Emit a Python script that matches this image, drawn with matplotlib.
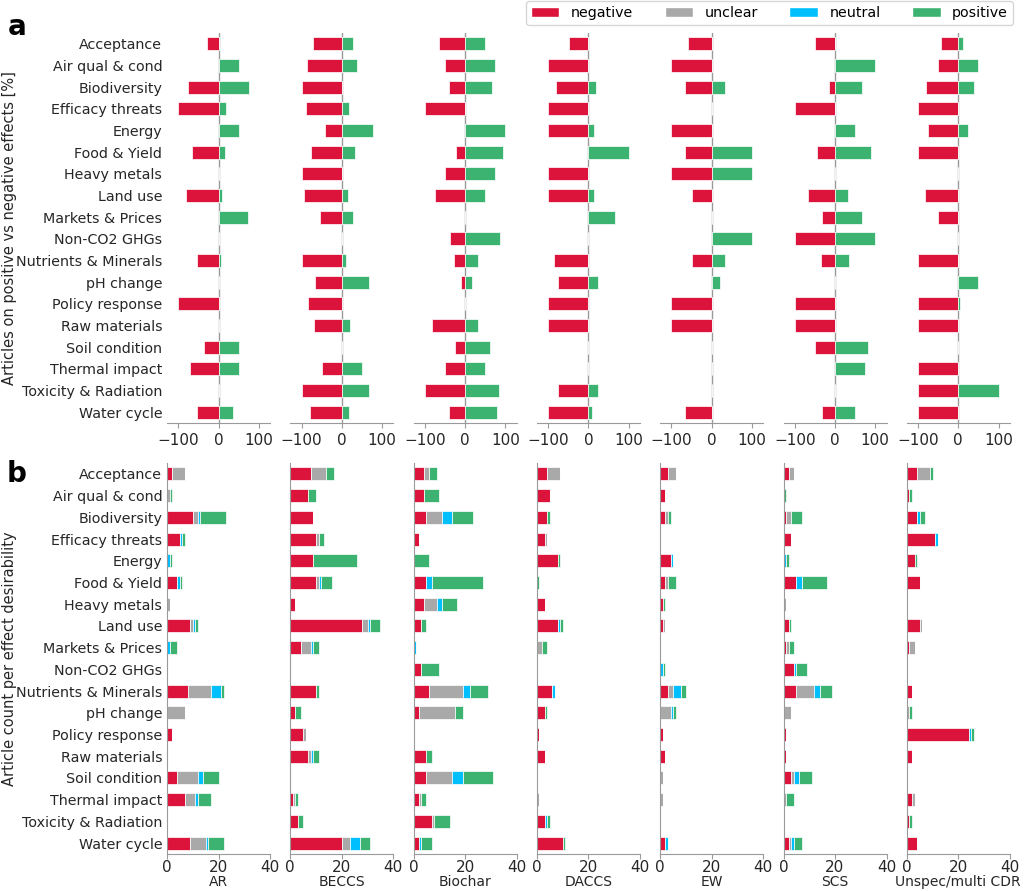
import numpy as np
import matplotlib
matplotlib.use("Agg")
import matplotlib.pyplot as plt
from matplotlib.patches import Patch

categories = ["Acceptance", "Air qual & cond", "Biodiversity", "Efficacy threats",
              "Energy", "Food & Yield", "Heavy metals", "Land use",
              "Markets & Prices", "Non-CO2 GHGs", "Nutrients & Minerals",
              "pH change", "Policy response", "Raw materials", "Soil condition",
              "Thermal impact", "Toxicity & Radiation", "Water cycle"]
methods = ["AR", "BECCS", "Biochar", "DACCS", "EW", "SCS", "Unspec/multi CDR"]

# panel a: share of articles with negative / positive effects [%]
pct_neg = {
    "AR":      [28, 0, 77, 100, 0, 66, 0, 82, 0, 0, 53, 0, 100, 0, 35, 70, 0, 53],
    "BECCS":   [72, 86, 100, 90, 41, 76, 100, 93, 55, 0, 100, 66, 83, 69, 0, 49, 100, 79],
    "Biochar": [66, 50, 41, 100, 0, 23, 50, 74, 0, 37, 28, 10, 0, 83, 26, 50, 100, 40],
    "DACCS":   [49, 100, 80, 100, 100, 0, 100, 100, 0, 0, 85, 75, 100, 100, 0, 0, 75, 100],
    "EW":      [60, 100, 66, 0, 100, 66, 100, 50, 0, 0, 50, 0, 100, 100, 0, 0, 0, 66],
    "SCS":     [50, 0, 16, 100, 0, 45, 0, 67, 33, 100, 36, 0, 100, 100, 50, 0, 0, 33],
    "Unspec/multi CDR": [44, 50, 80, 100, 75, 100, 0, 83, 50, 0, 100, 0, 100, 100, 0, 100, 100, 100],
}
pct_pos = {
    "AR":      [0, 50, 76, 19, 50, 16, 0, 8, 74, 0, 6, 0, 0, 0, 50, 50, 0, 35],
    "BECCS":   [28, 38, 0, 19, 78, 32, 0, 15, 29, 0, 10, 67, 0, 21, 0, 50, 67, 17],
    "Biochar": [50, 74, 66, 0, 100, 94, 74, 50, 0, 86, 33, 16, 0, 33, 62, 50, 85, 80],
    "DACCS":   [0, 0, 20, 0, 13, 100, 0, 13, 66, 0, 0, 25, 0, 0, 0, 0, 25, 10],
    "EW":      [0, 0, 33, 0, 0, 100, 100, 0, 0, 100, 33, 20, 0, 0, 0, 0, 0, 0],
    "SCS":     [0, 100, 67, 0, 50, 90, 0, 33, 67, 100, 36, 0, 0, 0, 83, 75, 0, 50],
    "Unspec/multi CDR": [11, 50, 40, 0, 25, 0, 0, 0, 0, 0, 0, 50, 4, 0, 0, 0, 100, 0],
}

# panel b: article counts per effect desirability
cnt_negative = {
    "AR":      [2, 0, 10, 5, 0, 4, 0, 9, 0, 0, 8, 0, 2, 0, 4, 7, 0, 9],
    "BECCS":   [8, 7, 9, 10, 9, 10, 2, 28, 4, 0, 10, 2, 5, 7, 0, 1, 3, 20],
    "Biochar": [4, 4, 5, 2, 0, 5, 4, 3, 0, 3, 6, 2, 0, 5, 5, 2, 7, 2],
    "DACCS":   [4, 5, 4, 3, 8, 0, 3, 8, 0, 0, 6, 3, 1, 3, 0, 0, 3, 10],
    "EW":      [3, 2, 2, 0, 4, 2, 1, 1, 0, 0, 3, 0, 1, 2, 0, 0, 0, 2],
    "SCS":     [2, 0, 1, 3, 0, 5, 0, 2, 1, 4, 5, 0, 1, 1, 3, 0, 0, 2],
    "Unspec/multi CDR": [4, 1, 4, 11, 3, 5, 0, 5, 1, 0, 2, 0, 24, 2, 0, 2, 1, 4],
}
cnt_unclear = {
    "AR":      [5, 1, 2, 0, 0, 0, 1, 1, 0, 0, 9, 7, 0, 0, 8, 4, 0, 6],
    "BECCS":   [6, 0, 0, 1, 0, 1, 0, 2, 4, 0, 0, 0, 1, 1, 0, 1, 0, 3],
    "Biochar": [2, 0, 6, 0, 0, 0, 5, 0, 0, 0, 13, 14, 0, 0, 10, 1, 1, 0],
    "DACCS":   [5, 0, 0, 1, 0, 0, 0, 0, 2, 0, 0, 0, 0, 0, 0, 1, 0, 0],
    "EW":      [3, 0, 1, 0, 0, 1, 0, 1, 0, 0, 2, 4, 0, 0, 1, 1, 0, 0],
    "SCS":     [2, 0, 2, 0, 0, 0, 1, 0, 1, 0, 7, 3, 0, 0, 1, 1, 0, 1],
    "Unspec/multi CDR": [5, 0, 0, 0, 0, 0, 0, 1, 2, 0, 0, 1, 0, 0, 0, 1, 0, 0],
}
cnt_neutral = {
    "AR":      [0, 0, 1, 1, 1, 1, 0, 1, 1, 0, 4, 0, 0, 0, 2, 1, 0, 1],
    "BECCS":   [0, 0, 0, 0, 0, 1, 0, 1, 1, 0, 0, 0, 0, 1, 0, 0, 0, 4],
    "Biochar": [0, 0, 4, 0, 0, 2, 2, 0, 1, 0, 3, 0, 0, 0, 4, 0, 0, 1],
    "DACCS":   [0, 0, 0, 0, 0, 0, 0, 1, 0, 0, 1, 0, 0, 0, 0, 0, 1, 0],
    "EW":      [0, 0, 0, 0, 1, 0, 0, 0, 0, 1, 3, 1, 0, 0, 0, 0, 0, 1],
    "SCS":     [0, 0, 0, 0, 1, 2, 0, 0, 0, 1, 2, 0, 0, 0, 2, 0, 0, 1],
    "Unspec/multi CDR": [0, 0, 1, 1, 0, 0, 0, 0, 0, 0, 0, 0, 1, 0, 0, 0, 0, 0],
}
cnt_positive = {
    "AR":      [0, 1, 10, 1, 1, 1, 0, 1, 3, 0, 1, 0, 0, 0, 6, 5, 0, 6],
    "BECCS":   [3, 3, 0, 2, 17, 4, 0, 4, 2, 0, 1, 2, 0, 2, 0, 1, 2, 4],
    "Biochar": [3, 6, 8, 0, 6, 20, 6, 2, 0, 7, 7, 3, 0, 2, 12, 2, 6, 4],
    "DACCS":   [0, 0, 1, 0, 1, 1, 0, 1, 2, 0, 0, 1, 0, 0, 0, 0, 1, 1],
    "EW":      [0, 0, 1, 0, 0, 3, 1, 0, 0, 1, 2, 1, 0, 0, 0, 0, 0, 0],
    "SCS":     [0, 1, 4, 0, 1, 10, 0, 1, 2, 4, 5, 0, 0, 0, 5, 3, 0, 3],
    "Unspec/multi CDR": [1, 1, 2, 0, 1, 0, 0, 0, 0, 0, 0, 1, 1, 0, 0, 0, 1, 0],
}

colors = {"negative": "crimson", "unclear": "darkgray",
          "neutral": "deepskyblue", "positive": "mediumseagreen"}
spine_col = "#9a9a9a"
txt_col = "#262626"

fig = plt.figure(figsize=(10.24, 8.91), dpi=100)
plt.rcParams["font.size"] = 10.3

left0 = 167 / 1024
width = 103 / 1024
step = 123.3 / 1024
top_a, h_a = 1 - 423 / 891, 390 / 891
top_b, h_b = 1 - 854 / 891, 391 / 891

y = np.arange(len(categories))
bh = 0.6
edge = dict(edgecolor="white", linewidth=0.5)

def style(ax, xpad=3.5):
    for s in ["top", "right"]:
        ax.spines[s].set_visible(False)
    for s in ["left", "bottom"]:
        ax.spines[s].set_color(spine_col)
    ax.tick_params(axis="x", colors=spine_col, labelcolor=txt_col,
                   labelsize=11, pad=xpad)
    ax.tick_params(axis="y", length=0, labelcolor=txt_col, labelsize=10.3)
    ax.set_ylim(len(categories) - 0.5, -0.5)
    ax.set_yticks(y)

for i, m in enumerate(methods):
    # panel a
    ax = fig.add_axes([left0 + i * step, top_a, width, h_a])
    style(ax)
    ax.spines["left"].set_visible(False)
    ax.axvline(0, color=spine_col, lw=1, zorder=0)
    ax.barh(y, -np.array(pct_neg[m]), height=bh, color=colors["negative"], **edge)
    ax.barh(y, pct_pos[m], height=bh, color=colors["positive"], **edge)
    ax.set_xlim(-128, 128)
    ax.set_xticks([-100, 0, 100])
    if i == 0:
        ax.set_yticklabels(categories)
    else:
        ax.set_yticklabels([])

    # panel b
    ax = fig.add_axes([left0 + i * step, top_b, width, h_b])
    style(ax, xpad=1.0)
    left = np.zeros(len(categories))
    for key, d in [("negative", cnt_negative), ("unclear", cnt_unclear),
                   ("neutral", cnt_neutral), ("positive", cnt_positive)]:
        vals = np.array(d[m])
        ax.barh(y, vals, left=left, height=bh, color=colors[key], **edge)
        left += vals
    ax.set_xlim(0, 40)
    ax.set_xticks([0, 20, 40])
    ax.set_xlabel(m, fontsize=10.0, color=txt_col, labelpad=0)
    if i == 0:
        ax.set_yticklabels(categories)
    else:
        ax.set_yticklabels([])

fig.text(0.009, top_a + h_a / 2, "Articles on positive vs negative effects [%]",
         rotation=90, va="center", ha="center", fontsize=10.5, color=txt_col)
fig.text(0.009, top_b + h_b / 2, "Article count per effect desirability",
         rotation=90, va="center", ha="center", fontsize=10.5, color=txt_col)
fig.text(17 / 1024, 1 - 27 / 891, "a", fontsize=20, fontweight="bold",
         ha="center", va="center")
fig.text(17 / 1024, 1 - 474 / 891, "b", fontsize=20, fontweight="bold",
         ha="center", va="center")

handles = [Patch(facecolor=colors[k], edgecolor="white", label=k)
           for k in ["negative", "unclear", "neutral", "positive"]]
fig.legend(handles=handles, ncol=4, loc="upper right",
           bbox_to_anchor=(1013 / 1024, 1 - 1 / 891), fontsize=10.3,
           columnspacing=2.2, borderaxespad=0, borderpad=0.35, frameon=True)

fig.savefig("out.png", dpi=100)
